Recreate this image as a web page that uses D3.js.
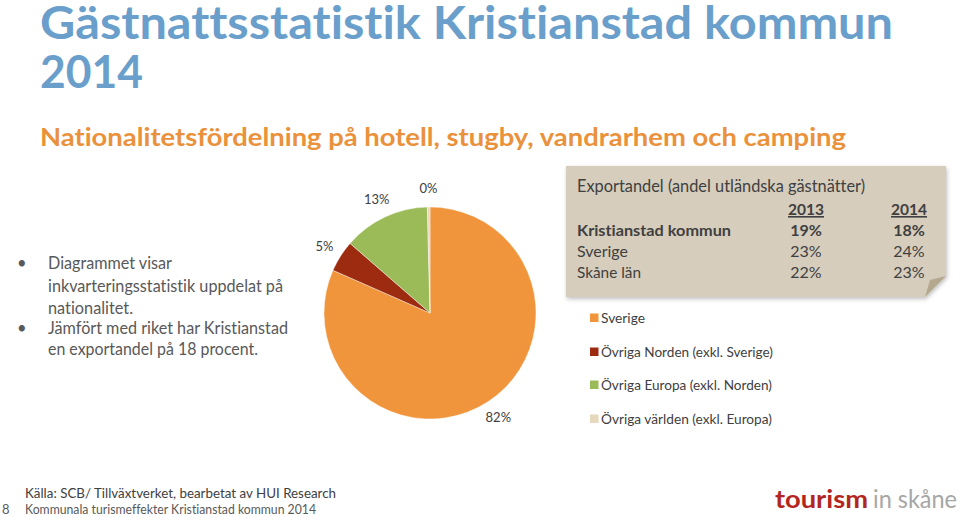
<!DOCTYPE html>
<html><head><meta charset="utf-8">
<script src="https://cdn.jsdelivr.net/npm/d3@7/dist/d3.min.js"></script>
<style>
html,body{margin:0;padding:0;background:#fff;}
svg{display:block;font-family:Lato,"Open Sans",sans-serif;font-variant-ligatures:none;font-feature-settings:"liga" 0,"clig" 0;}
</style></head>
<body>
<script>
// ---- data ----
const categories = ["Sverige", "Övriga Norden (exkl. Sverige)", "Övriga Europa (exkl. Norden)", "Övriga världen (exkl. Europa)"];
const shares = [81.6, 4.8, 13.2, 0.4];
const shareLabels = ["82%", "5%", "13%", "0%"];
const colors = ["#F0953B", "#9C2B10", "#9BBB59", "#E6D8BC"];
const tableYears = ["2013", "2014"];
const tableRows = ["Kristianstad kommun", "Sverige", "Skåne län"];
const export2013 = ["19%", "23%", "22%"];
const export2014 = ["18%", "24%", "23%"];
const bullets = [["Diagrammet visar", "inkvarteringsstatistik uppdelat på", "nationalitet."],
                 ["Jämfört med riket har Kristianstad", "en exportandel på 18 procent."]];

const W = 960, H = 517;
const svg = d3.select("body").append("svg").attr("width", W).attr("height", H);

function fit(sel, w) {
  sel.attr("textLength", w).attr("lengthAdjust", "spacingAndGlyphs");
  return sel;
}

// titles
fit(svg.append("text").attr("x", 40).attr("y", 39).attr("font-size", 45).attr("font-weight", 700)
  .attr("fill", "#6A9FCC").text("Gästnattsstatistik Kristianstad kommun"), 853);
fit(svg.append("text").attr("x", 40).attr("y", 88).attr("font-size", 45).attr("font-weight", 700)
  .attr("fill", "#6A9FCC").text("2014"), 103);
fit(svg.append("text").attr("x", 40).attr("y", 146).attr("font-size", 24).attr("font-weight", 700)
  .attr("fill", "#EA913C").text("Nationalitetsfördelning på hotell, stugby, vandrarhem och camping"), 806);

// bullets
const lineYs = [[269, 292, 314], [334, 355]];
const lineW = [[124, 235, 85], [240, 210]];
bullets.forEach((b, i) => {
  svg.append("text").attr("x", 17).attr("y", lineYs[i][0]).attr("font-size", 16.5).attr("fill", "#595959").text("•");
  b.forEach((t, j) => {
    fit(svg.append("text").attr("x", 48).attr("y", lineYs[i][j]).attr("font-size", 16.5).attr("fill", "#595959").text(t), lineW[i][j]);
  });
});

// pie
const cx = 430, cy = 313, r = 106;
const pie = d3.pie().sort(null).value(d => d)(shares);
const arc = d3.arc().innerRadius(0).outerRadius(r);
const labelArc = d3.arc().innerRadius(125).outerRadius(125);
const g = svg.append("g").attr("transform", `translate(${cx},${cy})`);
g.selectAll("path").data(pie).join("path").attr("d", arc)
  .attr("fill", (d, i) => colors[i]).attr("stroke", "#fff").attr("stroke-width", 0.4);
g.selectAll("text").data(pie).join("text")
  .attr("transform", d => `translate(${labelArc.centroid(d)})`)
  .attr("text-anchor", "middle").attr("dy", "0.35em")
  .attr("font-size", 13).attr("fill", "#404040")
  .text((d, i) => shareLabels[i]);

// table note box
const bx = 566, by = 166, bw = 380, bh = 131, fold = 21;
const defs = svg.append("defs");
const f = defs.append("filter").attr("id", "sh").attr("x", "-5%").attr("y", "-5%").attr("width", "115%").attr("height", "120%");
f.append("feDropShadow").attr("dx", 1).attr("dy", 2).attr("stdDeviation", 2).attr("flood-color", "#000").attr("flood-opacity", 0.25);
svg.append("path")
  .attr("d", `M${bx},${by}H${bx + bw}V${by + bh - fold}L${bx + bw - fold},${by + bh}H${bx}Z`)
  .attr("fill", "#D6CDBD").attr("filter", "url(#sh)");
svg.append("path")
  .attr("d", `M${bx + bw},${by + bh - fold}L${bx + bw - fold},${by + bh}L${bx + bw - fold + 5},${by + bh - fold + 4}Z`)
  .attr("fill", "#B4A88E");

fit(svg.append("text").attr("x", 577).attr("y", 192).attr("font-size", 16.5).attr("fill", "#404040")
  .text("Exportandel (andel utländska gästnätter)"), 288);
const colX = [806, 909];
tableYears.forEach((y, i) => {
  fit(svg.append("text").attr("x", colX[i] - 18).attr("y", 215)
    .attr("font-size", 16).attr("font-weight", 700).attr("fill", "#404040")
    .attr("text-decoration", "underline").text(y), 36);
});
const rowY = [236, 257, 278];
const rowW = [154, 51, 64];
tableRows.forEach((t, i) => {
  const bold = i === 0 ? 700 : 400;
  fit(svg.append("text").attr("x", 577).attr("y", rowY[i]).attr("font-size", 16).attr("font-weight", bold).attr("fill", "#404040").text(t), rowW[i]);
  svg.append("text").attr("x", colX[0]).attr("y", rowY[i]).attr("text-anchor", "middle").attr("font-size", 16).attr("font-weight", bold).attr("fill", "#404040").text(export2013[i]);
  svg.append("text").attr("x", colX[1]).attr("y", rowY[i]).attr("text-anchor", "middle").attr("font-size", 16).attr("font-weight", bold).attr("fill", "#404040").text(export2014[i]);
});

// legend
const legY = [318, 352, 385, 419];
const legW = [44, 172, 171, 171];
categories.forEach((c, i) => {
  svg.append("rect").attr("x", 590).attr("y", legY[i] - 4.5).attr("width", 8.5).attr("height", 8.5).attr("fill", colors[i]);
  fit(svg.append("text").attr("x", 601).attr("y", legY[i]).attr("dy", "0.35em").attr("font-size", 13.5).attr("fill", "#404040").text(c), legW[i]);
});

// footer
svg.append("text").attr("x", 2).attr("y", 514).attr("font-size", 13).attr("fill", "#595959").text("8");
fit(svg.append("text").attr("x", 25).attr("y", 498).attr("font-size", 13.5).attr("fill", "#404040")
  .text("Källa: SCB/ Tillväxtverket, bearbetat av HUI Research"), 311);
fit(svg.append("text").attr("x", 25).attr("y", 514).attr("font-size", 13).attr("fill", "#595959")
  .text("Kommunala turismeffekter Kristianstad kommun 2014"), 291);

// logo
fit(svg.append("text").attr("x", 775).attr("y", 508).attr("font-size", 25).attr("font-weight", 700).attr("fill", "#B3261E").text("tourism"), 93);
fit(svg.append("text").attr("x", 873).attr("y", 508).attr("font-size", 24.5).attr("fill", "#A6A6A6").text("in skåne"), 84);
</script>
</body></html>
